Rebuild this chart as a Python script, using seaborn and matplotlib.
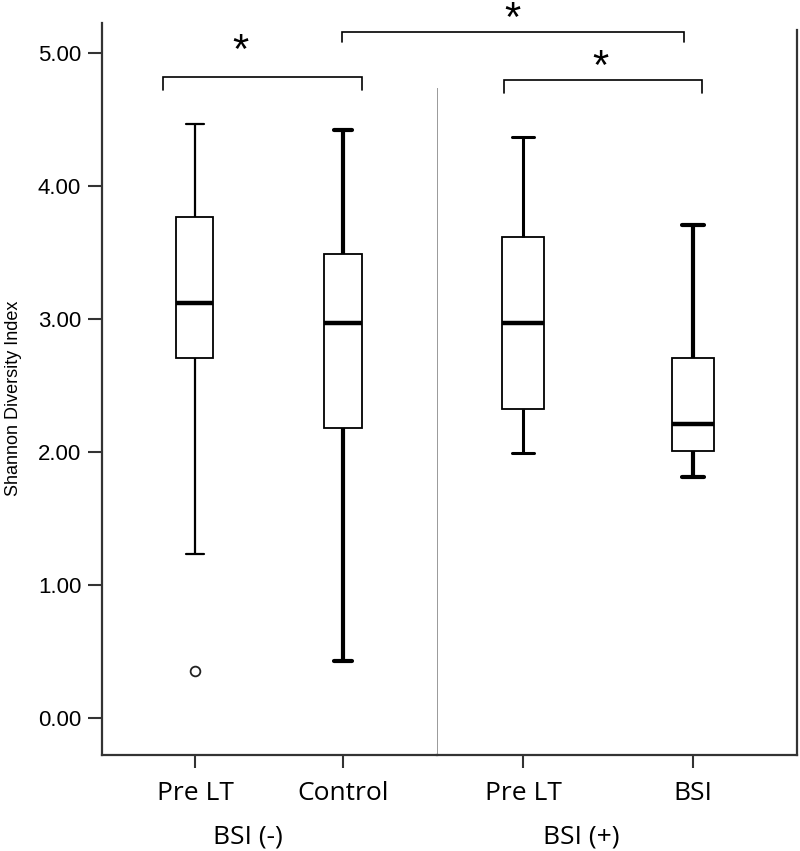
import numpy as np
import pandas as pd
import seaborn as sns
import matplotlib.pyplot as plt
from matplotlib.ticker import FormatStrFormatter

# Shannon diversity readings per group (each sample reproduces the box:
# whisker ends, quartiles, median, outliers)
pre_lt_neg = [0.35, 1.23, 2.71, 2.71, 3.12, 3.77, 3.77, 4.47, 4.47]
control_neg = [0.43, 2.18, 2.97, 3.49, 4.42]
pre_lt_pos = [1.99, 2.32, 2.97, 3.62, 4.37]
bsi_pos = [1.81, 2.01, 2.21, 2.71, 3.71]

left_labels = ["Pre LT", "Control"]
right_labels = ["Pre LT", "BSI"]
group_labels = ["BSI (-)", "BSI (+)"]
y_ticks = [0, 1, 2, 3, 4, 5]

sns.set_style("ticks")
plt.rcParams["font.family"] = ["Liberation Sans", "DejaVu Sans"]
plt.rcParams["text.color"] = "black"
label_font = ["Open Sans", "DejaVu Sans"]
spine_col = "#333333"

W, H = 800, 851
fig = plt.figure(figsize=(W / 100, H / 100), dpi=100)
ax1 = fig.add_axes([102 / W, 1 - 755 / H, (437 - 102) / W, (755 - 23) / H])
ax2 = fig.add_axes([437 / W, 1 - 755 / H, (797 - 437) / W, (755 - 30) / H])
ax1.patch.set_visible(False)
ax2.patch.set_visible(False)

box_kw = dict(width=0.25, color="white", linecolor="black", linewidth=1.3,
              medianprops=dict(linewidth=3.2, color="black"),
              flierprops=dict(marker="o", markersize=7, markerfacecolor="white",
                              markeredgecolor="#222222", markeredgewidth=1.3))

panels = [
    (ax1, left_labels, [pre_lt_neg, control_neg], [1.6, 3.0]),
    (ax2, right_labels, [pre_lt_pos, bsi_pos], [2.2, 3.0]),
]
for ax, labels, samples, whisker_lw in panels:
    for lab, vals, lw in zip(labels, samples, whisker_lw):
        df = pd.DataFrame({"group": lab, "value": vals})
        sns.boxplot(data=df, x="group", y="value", order=labels, ax=ax,
                    whiskerprops=dict(linewidth=lw), capprops=dict(linewidth=lw),
                    **box_kw)
    ax.set_xlabel("")
    ax.set_ylabel("")

ax1.set_xlim(-0.628, 1.635)
ax2.set_xlim(-0.506, 1.612)
ax1.set_ylim(-0.278, 5.226)
ax2.set_ylim(-0.278, 5.173)

# left panel: y axis
ax1.set_yticks(y_ticks)
ax1.yaxis.set_major_formatter(FormatStrFormatter("%.2f"))
ax1.tick_params(axis="y", labelsize=16, length=10, width=1.5, color=spine_col,
                labelcolor="black", pad=5)
for s in ["top", "right"]:
    ax1.spines[s].set_visible(False)
for s in ["left", "bottom"]:
    ax1.spines[s].set_color(spine_col)
    ax1.spines[s].set_linewidth(1.6)

# right panel: no y ticks, thin grey separator, right spine
ax2.tick_params(axis="y", left=False, labelleft=False)
ax2.spines["top"].set_visible(False)
ax2.spines["left"].set_color("#999999")
ax2.spines["left"].set_linewidth(0.7)
ax2.spines["left"].set_bounds(-0.278, 4.74)
for s in ["right", "bottom"]:
    ax2.spines[s].set_color(spine_col)
    ax2.spines[s].set_linewidth(1.6)

for ax, labels in [(ax1, left_labels), (ax2, right_labels)]:
    ax.set_xticks(range(len(labels)))
    ax.set_xticklabels(labels, fontsize=19, family=label_font)
    ax.tick_params(axis="x", length=9, width=1.5, color=spine_col,
                   labelcolor="black", pad=10)

fig.text(248 / W, 1 - 843 / H, group_labels[0], ha="center", va="baseline",
         fontsize=19, family=label_font, color="black")
fig.text(581 / W, 1 - 843 / H, group_labels[1], ha="center", va="baseline",
         fontsize=19, family=label_font, color="black")
fig.text(14 / W, 1 - 398 / H, "Shannon Diversity Index", rotation=90,
         ha="center", va="center", fontsize=13, color="black")


# significance brackets
def to_ax1(ax, x):
    disp = ax.transData.transform((x, 0))
    return ax1.transData.inverted().transform(disp)[0]


def bracket(ax_a, xa, ax_b, xb, y, drop):
    x0, x1 = to_ax1(ax_a, xa), to_ax1(ax_b, xb)
    ax1.plot([x0, x0, x1, x1], [drop, y, y, drop], color="black", lw=1.2,
             clip_on=False, solid_joinstyle="miter")


bracket(ax1, -0.216, ax1, 1.128, 4.82, 4.72)
bracket(ax1, 0.993, ax2, 0.947, 5.16, 5.08)
bracket(ax2, -0.112, ax2, 1.053, 4.80, 4.70)

star_kw = dict(ha="center", va="center", fontsize=30, color="black", clip_on=False)
ax1.text(0.304, 5.01, "*", **star_kw)
ax2.text(-0.06, 5.25, "*", **star_kw)
ax2.text(0.453, 4.89, "*", **star_kw)

fig.savefig("out.png", dpi=100)
